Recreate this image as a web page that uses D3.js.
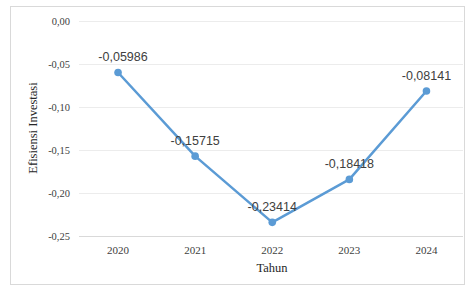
<!DOCTYPE html>
<html><head><meta charset="utf-8">
<script src="https://cdn.jsdelivr.net/npm/d3@7"></script>
<style>body{margin:0;background:#fff}svg{display:block}</style>
</head><body>
<script>
const years = ["2020","2021","2022","2023","2024"];
const values = [-0.05986,-0.15715,-0.23414,-0.18418,-0.08141];
const labels = ["-0,05986","-0,15715","-0,23414","-0,18418","-0,08141"];
const yTicks = [0,-0.05,-0.10,-0.15,-0.20,-0.25];
const yTickLabels = ["0,00","-0,05","-0,10","-0,15","-0,20","-0,25"];

const W=471,H=287;
const svg=d3.select("body").append("svg").attr("width",W).attr("height",H);
svg.append("rect").attr("x",10.5).attr("y",6.5).attr("width",454).attr("height",278)
  .attr("fill","#fff").attr("stroke","#d9d9d9");

const x=d3.scaleBand().domain(years).range([79.5,465]);
const y=d3.scaleLinear().domain([-0.25,0]).range([236,21]);

const grid=svg.append("g");
grid.selectAll("line").data(yTicks).join("line")
  .attr("x1",79).attr("x2",463).attr("y1",d=>Math.round(y(d))+0.5).attr("y2",d=>Math.round(y(d))+0.5)
  .attr("stroke",d=>d===-0.25?"#d9d9d9":"#ececec").attr("stroke-width",1);

svg.append("g").selectAll("text").data(yTicks).join("text")
  .attr("x",70).attr("y",d=>y(d)+3.5).attr("text-anchor","end")
  .attr("font-family","Liberation Serif, serif").attr("font-size",10.5).attr("fill","#404040")
  .text((d,i)=>yTickLabels[i]);

svg.append("g").selectAll("text").data(years).join("text")
  .attr("x",d=>x(d)+x.bandwidth()/2).attr("y",254).attr("text-anchor","middle")
  .attr("font-family","Liberation Serif, serif").attr("font-size",11).attr("fill","#404040")
  .text(d=>d);

svg.append("text").attr("x",272).attr("y",272).attr("text-anchor","middle")
  .attr("font-family","Liberation Serif, serif").attr("font-size",12.5).attr("fill","#262626").text("Tahun");
svg.append("text").attr("transform","translate(37,128) rotate(-90)").attr("text-anchor","middle")
  .attr("font-family","Liberation Serif, serif").attr("font-size",12.5).attr("fill","#262626").text("Efisiensi Investasi");

const line=d3.line().x((d,i)=>x(years[i])+x.bandwidth()/2).y(d=>y(d));
svg.append("path").datum(values).attr("d",line).attr("fill","none")
  .attr("stroke","#5b9bd5").attr("stroke-width",2.5).attr("stroke-linejoin","round");
svg.append("g").selectAll("circle").data(values).join("circle")
  .attr("cx",(d,i)=>x(years[i])+x.bandwidth()/2).attr("cy",d=>y(d)).attr("r",3.8).attr("fill","#5b9bd5");

svg.append("g").selectAll("text").data(values).join("text")
  .attr("x",(d,i)=>x(years[i])+x.bandwidth()/2+(i===0?5:0)).attr("y",d=>y(d)-11).attr("text-anchor","middle")
  .attr("font-family","Liberation Sans, Arial, sans-serif").attr("font-size",12.5).attr("fill","#404040")
  .text((d,i)=>labels[i]);
</script>
</body></html>
